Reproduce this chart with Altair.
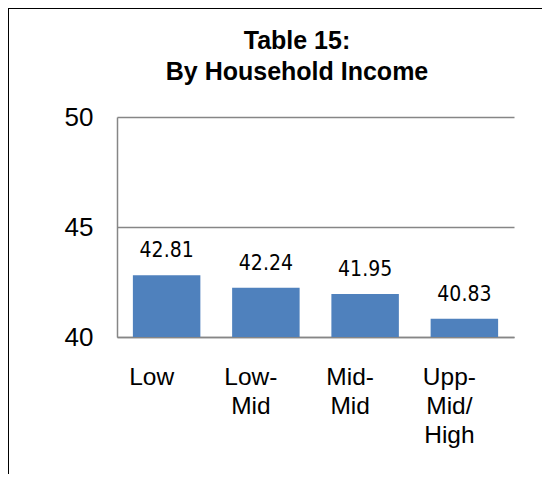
import altair as alt
import pandas as pd

categories = ["Low", "Low- Mid", "Mid- Mid", "Upp- Mid/ High"]
values = [42.81, 42.24, 41.95, 40.83]
y_ticks = [40, 45, 50]
title_lines = ["Table 15:", "By Household Income"]

df = pd.DataFrame({"cat": categories, "val": values})
title_df = pd.DataFrame({"t": ["\n".join(title_lines)]})

x_enc = alt.X(
    "cat:N",
    sort=categories,
    scale=alt.Scale(paddingInner=0.32, paddingOuter=0.16),
    axis=alt.Axis(
        title=None,
        labels=False,
        ticks=False,
        domainColor="#868686",
        domainWidth=1.5,
    ),
)
y_enc = alt.Y(
    "val:Q",
    scale=alt.Scale(domain=[40, 50], zero=False, nice=False),
    axis=alt.Axis(
        title=None,
        values=y_ticks,
        grid=True,
        gridColor="#868686",
        gridWidth=1.5,
        ticks=False,
        labelFont="Liberation Sans",
        labelFontSize=26,
        labelColor="#000000",
        labelPadding=24,
        domainColor="#868686",
        domainWidth=1.5,
    ),
)

bars = alt.Chart(df).mark_bar(color="#4F81BD").encode(x=x_enc, y=y_enc, y2=alt.datum(40))

labels = alt.Chart(df).mark_text(
    font="Liberation Sans Narrow, DejaVu Sans Condensed, Liberation Sans",
    fontSize=21,
    baseline="alphabetic",
    dy=-18,
    color="#000000",
).encode(x=alt.X("cat:N", sort=categories), y="val:Q", text=alt.Text("val:Q", format=".2f"))

cat_labels = alt.Chart(df).mark_text(
    font="Liberation Sans",
    fontSize=24.5,
    baseline="top",
    align="center",
    lineBreak=" ",
    lineHeight=29,
    dx=-15,
    color="#000000",
).encode(x=alt.X("cat:N", sort=categories), y=alt.value(249), text="cat:N")

title = alt.Chart(title_df).mark_text(
    font="Liberation Sans",
    fontSize=25,
    fontWeight="bold",
    baseline="alphabetic",
    align="center",
    lineBreak="\n",
    lineHeight=31,
    color="#000000",
).encode(x=alt.value(180), y=alt.value(-68), text="t:N")

frame = alt.Chart(df).mark_rect(filled=False, stroke="#000000", strokeWidth=1).encode(
    x=alt.value(-108.5), x2=alt.value(460), y=alt.value(-108.5), y2=alt.value(420)
)

chart = alt.layer(bars, labels, cat_labels, title, frame).properties(
    width=397,
    height=220,
    padding={"left": 109, "top": 109, "right": 28, "bottom": 137},
    autosize=alt.AutoSizeParams(type="none"),
).configure_view(stroke=None)

chart.save("out.html", embed_options={"renderer": "svg", "actions": False})
